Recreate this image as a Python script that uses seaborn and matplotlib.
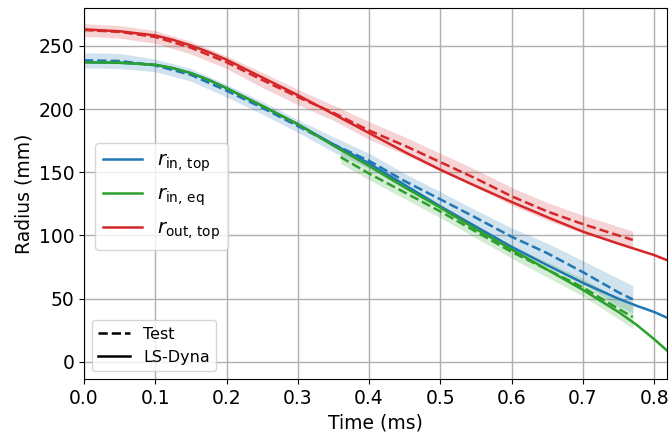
import numpy as np
import pandas as pd
import matplotlib
matplotlib.use("Agg")
import matplotlib.pyplot as plt
import seaborn as sns
from matplotlib.lines import Line2D

# ---- LS-Dyna (solid) ----
t_sim = [0.0, 0.05, 0.1, 0.125, 0.15, 0.175, 0.2, 0.25, 0.3, 0.35, 0.4, 0.45,
         0.5, 0.55, 0.6, 0.65, 0.7, 0.75, 0.775, 0.8, 0.818]
sim_rin_top = [237, 236.6, 235, 232.3, 228.4, 223, 216.5, 202.5, 188, 172,
               157, 140, 123, 107, 91, 76.5, 62.5, 50, 44.5, 39.5, 35]
sim_rin_eq = [237, 236.6, 235, 232.3, 228.4, 223, 216.5, 202.5, 188, 171,
              155, 138, 122, 105, 89, 73, 57, 39.5, 29.5, 18, 9]
sim_rout_top = [263, 261.5, 258.2, 254.7, 250.3, 245, 239, 225, 211, 196,
                181, 166, 152, 139, 126.5, 114.5, 103, 93.5, 89, 84.5, 80.5]

# ---- Test (dashed, mean and half-width of band) ----
t_test = [0.0, 0.05, 0.1, 0.15, 0.2, 0.25, 0.3, 0.35, 0.4, 0.45, 0.5, 0.55,
          0.6, 0.65, 0.7, 0.75, 0.77]
test_rin_top = [238.5, 238, 234.5, 227, 214.5, 201, 186.5, 172, 159, 143,
                128.6, 114, 99, 86, 71, 55, 49.5]
band_rin_top = [6, 6, 5, 5, 5, 5, 5, 6, 6, 6, 6, 6, 7, 8, 9, 11, 11]
test_rout_top = [262.5, 261, 257, 248.5, 237, 223, 209.5, 197, 183, 171, 158,
                 145, 131, 119, 109, 100, 96.5]
band_rout_top = [5, 5, 5, 5, 5, 6, 6, 6, 7, 7, 7, 7, 7, 7, 7, 7, 7]
t_test_eq = [0.36, 0.4, 0.45, 0.5, 0.55, 0.6, 0.65, 0.7, 0.75, 0.77]
test_rin_eq = [162, 149, 134, 119, 103, 87, 73, 59, 42, 35.5]
band_rin_eq = [5, 5, 5, 5, 5, 5, 6, 7, 8, 9]

labels = [r"$r_{\mathrm{in,\,top}}$", r"$r_{\mathrm{in,\,eq}}$",
          r"$r_{\mathrm{out,\,top}}$"]
colors = ["#1f77b4", "#2ca02c", "#d62728"]

plt.rcParams["font.family"] = ["DejaVu Sans"]
fig, ax = plt.subplots(figsize=(6.69, 4.37), dpi=100)
fig.subplots_adjust(left=0.1256, right=0.997, top=0.982, bottom=0.133)

sim_series = [sim_rin_top, sim_rin_eq, sim_rout_top]
test_series = [(t_test, test_rin_top, band_rin_top),
               (t_test_eq, test_rin_eq, band_rin_eq),
               (t_test, test_rout_top, band_rout_top)]

for (tt, m, b), c in zip(test_series, colors):
    m = np.array(m); b = np.array(b)
    ax.fill_between(tt, m - b, m + b, color=c, alpha=0.2, lw=0)
    df = pd.DataFrame({"t": tt, "r": m})
    sns.lineplot(data=df, x="t", y="r", ax=ax, color=c, lw=1.8,
                 linestyle=(0, (3.7, 1.6)), legend=False)

for s, c in zip(sim_series, colors):
    df = pd.DataFrame({"t": t_sim, "r": s})
    sns.lineplot(data=df, x="t", y="r", ax=ax, color=c, lw=1.8, legend=False)

ax.set_xlim(0, 0.818)
ax.set_ylim(-13.4, 280)
ax.set_xticks(np.arange(0, 0.81, 0.1))
ax.set_yticks(np.arange(0, 251, 50))
ax.grid(True, color="#b0b0b0", lw=1.0)
ax.set_axisbelow(True)
ax.tick_params(labelsize=13.5)
ax.set_xlabel("Time (ms)", fontsize=13.5)
ax.set_ylabel("Radius (mm)", fontsize=13.5)

h1 = [Line2D([0], [0], color=c, lw=1.8) for c in colors]
leg1 = ax.legend(h1, labels, loc="center left", fontsize=14,
                 bbox_to_anchor=(0.002, 0.492), handlelength=2.0,
                 labelspacing=0.55)
ax.add_artist(leg1)
h2 = [Line2D([0], [0], color="k", lw=1.8, linestyle=(0, (3.7, 1.6))),
      Line2D([0], [0], color="k", lw=1.8)]
ax.legend(h2, ["Test", "LS-Dyna"], loc="lower left", fontsize=11.5)

fig.savefig("out.png", dpi=100)
